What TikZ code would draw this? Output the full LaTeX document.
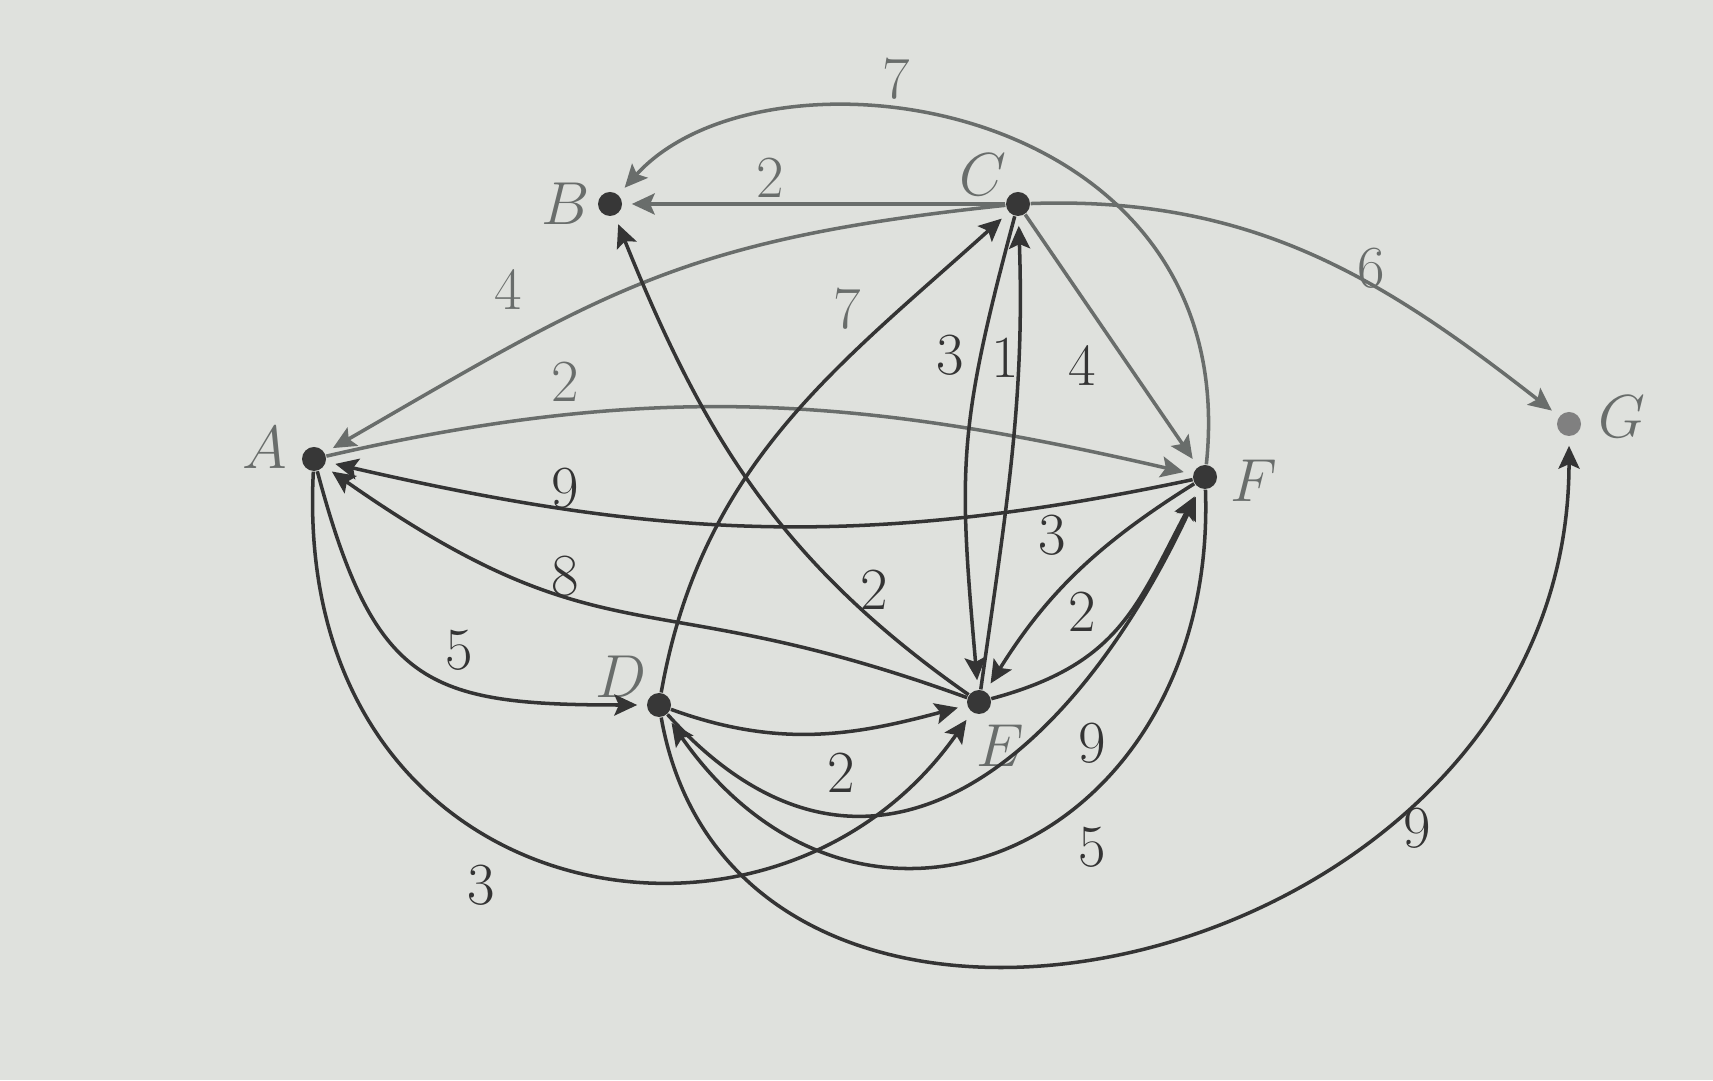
\documentclass[tikz,border=0pt]{standalone}
\usetikzlibrary{arrows.meta}
\definecolor{bgc}{RGB}{223,225,221}
\definecolor{lightc}{RGB}{105,109,107}
\definecolor{darkc}{RGB}{52,52,52}
\definecolor{dotc}{RGB}{55,55,55}
\tikzset{
  vtx/.style={circle, fill=dotc, inner sep=0pt, minimum size=0.24cm},
  arc/.style={draw=darkc, line width=1pt, -{Stealth[length=6.5pt,width=6pt,inset=1.3pt]}, shorten >=2.6pt},
  arcl/.style={arc, draw=lightc},
  wt/.style={font=\fontsize{17}{20}\selectfont, text=darkc, inner sep=0pt},
  wtl/.style={wt, text=lightc},
  lab/.style={font=\fontsize{17}{20}\selectfont, text=lightc, inner sep=0pt}
}
\begin{document}
\begin{tikzpicture}
\fill[bgc] (0,0) rectangle (17.13,10.80);
\useasboundingbox (0,0) rectangle (17.13,10.80);
% vertices
\node[vtx] (A) at (3.14,6.21) {};
\node[vtx] (B) at (6.10,8.76) {};
\node[vtx] (C) at (10.18,8.76) {};
\node[vtx] (D) at (6.59,3.75) {};
\node[vtx] (E) at (9.79,3.78) {};
\node[vtx] (F) at (12.05,6.03) {};
\node[vtx, fill=gray] (G) at (15.69,6.56) {};
% vertex labels
\node[lab] (lA) at (2.65,6.32) {$A$};
\node[lab] (lB) at (5.66,8.76) {$B$};
\node[lab] (lC) at (9.83,9.05) {$C$};
\node[lab] (lD) at (6.21,4.03) {$D$};
\node[lab] (lE) at (10.00,3.34) {$E$};
\node[lab] (lF) at (12.54,5.99) {$F$};
\node[lab] (lG) at (16.22,6.63) {$G$};
% edges
\draw[arcl] (C) -- (B);
\draw[arcl] (F) to[out=84,in=48,out distance=3.7cm,in distance=2.2cm] (B);
\draw[arcl] (C) to[out=186,in=30,looseness=1.15] (A);
\draw[arcl] (A) to[out=13,in=167] (F);
\draw[arc] (F) to[out=192,in=-13] (A);
\draw[arc] (E) to[out=160,in=-35,looseness=1.3] (A);
\draw[arc] (A) to[out=-75,in=180,looseness=1.4] (D);
\draw[arc] (A) to[out=-93,in=-125,out distance=4.4cm,in distance=3.5cm] (E);
\draw[arc] (D) to[out=80,in=-138] (C);
\draw[arc] (E) to[out=145,in=-68] (B);
\draw[arc] (C) to[out=-105,in=95,looseness=1.2] (E);
\draw[arc] (E) to[out=82,in=-88] (C);
\draw[arcl] (C) -- (F);
\draw[arcl] (C) to[out=2,in=142] (G);
\draw[arc] (F) to[out=212,in=58] (E);
\draw[arc] (E) to[out=15,in=-118,looseness=1.15] (F);
\draw[arc] (D) to[out=-48,in=-115,out distance=3.0cm,in distance=3.0cm] (F);
\draw[arc] (F) to[out=-88,in=-55,out distance=3.5cm,in distance=3.5cm] (D);
\draw[arc] (D) to[out=-20,in=195] (E);
\draw[arc] (D) to[out=-80,in=-90,out distance=4.5cm,in distance=5.4cm] (G);
% weights
\node[wtl] (w1) at (8.96,10.01) {7};
\node[wtl] (w2) at (7.70,9.02) {2};
\node[wtl] (w3) at (5.08,7.90) {4};
\node[wtl] (w4) at (8.47,7.71) {7};
\node[wt] (w5) at (9.50,7.25) {3};
\node[wt] (w6) at (10.05,7.22) {1};
\node[wt] (w7) at (10.82,7.14) {4};
\node[wtl] (w8) at (13.71,8.12) {6};
\node[wtl] (w9) at (5.65,6.98) {2};
\node[wt] (w10) at (5.65,5.92) {9};
\node[wt] (w11) at (5.65,5.04) {8};
\node[wt] (w12) at (8.74,4.90) {2};
\node[wt] (w13) at (10.52,5.45) {3};
\node[wt] (w14) at (10.82,4.68) {2};
\node[wt] (w15) at (4.59,4.30) {5};
\node[wt] (w16) at (10.92,3.37) {9};
\node[wt] (w17) at (8.41,3.07) {2};
\node[wt] (w18) at (10.92,2.33) {5};
\node[wt] (w19) at (4.81,1.95) {3};
\node[wt] (w20) at (14.17,2.52) {9};
\end{tikzpicture}
\end{document}
